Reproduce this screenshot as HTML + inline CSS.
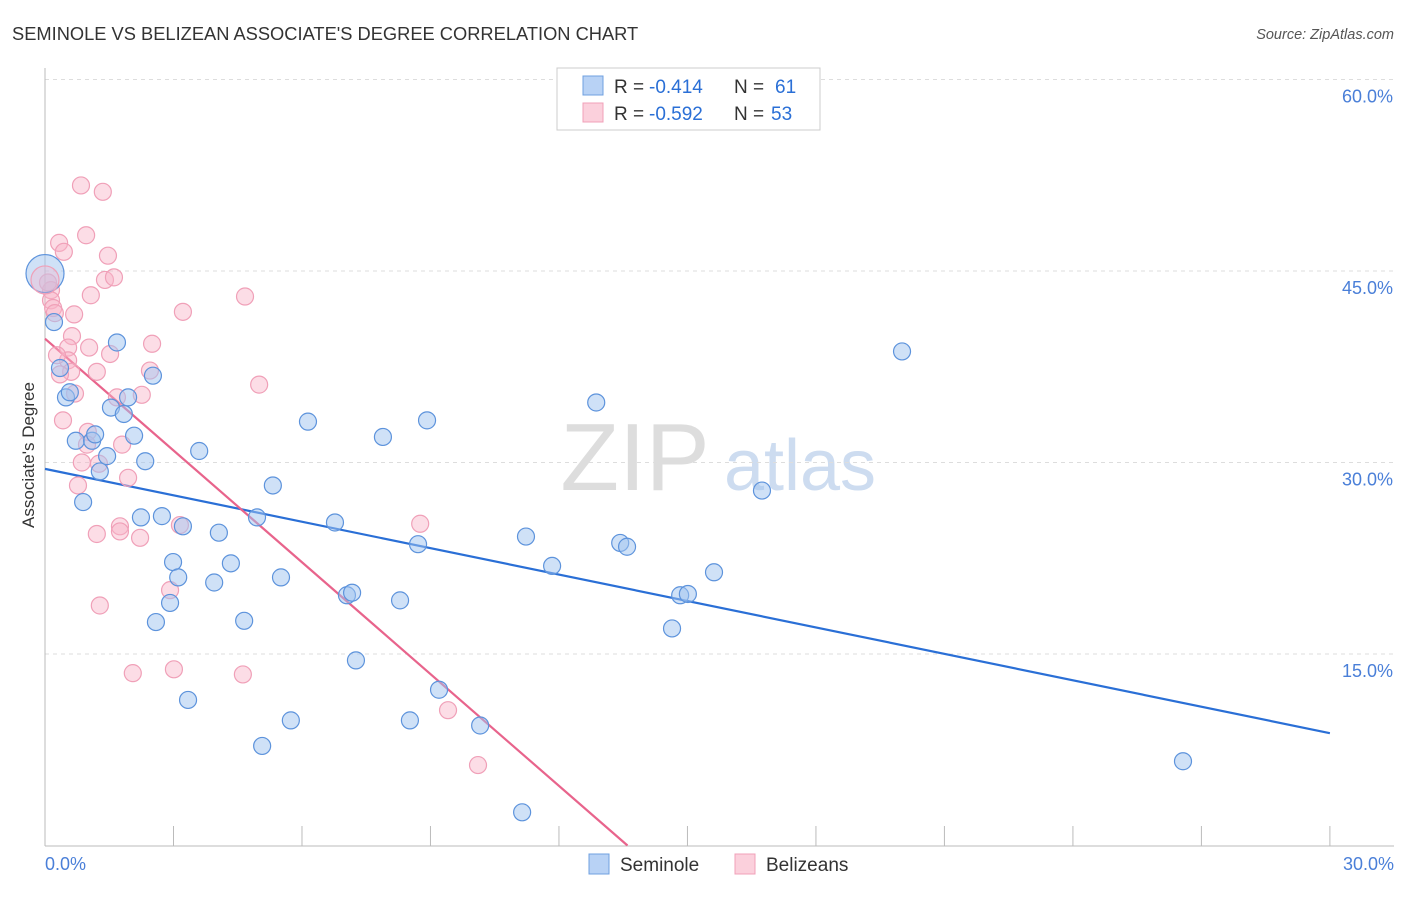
<!DOCTYPE html>
<html><head><meta charset="utf-8"><style>
body{margin:0;background:#fff;font-family:"Liberation Sans",sans-serif;}
svg text{font-family:"Liberation Sans",sans-serif;}
</style></head><body>
<svg id="chart" width="1406" height="892">
<text x="12" y="40" font-size="18.3" fill="#333">SEMINOLE VS BELIZEAN ASSOCIATE'S DEGREE CORRELATION CHART</text>
<text x="1394" y="39" font-size="14.5" fill="#555" text-anchor="end" font-style="italic">Source: ZipAtlas.com</text>
<text x="635" y="490" font-size="96" fill="#ddd" text-anchor="middle" font-family="Liberation Serif">ZIP</text>
<text x="800" y="490" font-size="72" fill="#cddcf0" text-anchor="middle">atlas</text>
<g id="grid"></g><g id="axes"></g><g id="lines"></g><g id="pts"></g>
<text transform="translate(34,455) rotate(-90)" font-size="17" fill="#333" text-anchor="middle">Associate's Degree</text>
<g>
<rect x="557" y="68" width="263" height="62" fill="#fff" stroke="#ccc"/>
<rect x="583" y="76" width="20" height="19" fill="#b8d2f5" stroke="#6fa0e0"/>
<text x="614" y="93" font-size="19" fill="#333">R =</text>
<text x="649" y="93" font-size="19" fill="#2a6fd6">-0.414</text>
<text x="734" y="93" font-size="19" fill="#333">N =</text>
<text x="775" y="93" font-size="19" fill="#2a6fd6">61</text>
<rect x="583" y="103" width="20" height="19" fill="#fbd0dc" stroke="#f0a0b8"/>
<text x="614" y="120" font-size="19" fill="#333">R =</text>
<text x="649" y="120" font-size="19" fill="#2a6fd6">-0.592</text>
<text x="734" y="120" font-size="19" fill="#333">N =</text>
<text x="771" y="120" font-size="19" fill="#2a6fd6">53</text>
</g>
<g><rect x="589" y="854" width="20" height="20" fill="#b8d2f5" stroke="#6fa0e0"/><text x="620" y="871" font-size="19" fill="#333">Seminole</text></g>
<g><rect x="735" y="854" width="20" height="20" fill="#fbd0dc" stroke="#f0a0b8"/><text x="766" y="871" font-size="19" fill="#333">Belizeans</text></g>
</svg>
<script>
const blueX=[0.21,0.35,0.49,0.58,0.72,0.89,1.10,1.17,1.28,1.45,1.54,1.68,1.84,1.94,2.08,2.24,2.34,2.52,2.59,2.73,2.92,2.99,3.11,3.22,3.34,3.60,3.95,4.06,4.34,4.65,4.95,5.07,5.32,5.51,5.74,6.14,6.77,7.05,7.17,7.26,7.89,8.29,8.52,8.71,8.92,9.20,10.16,11.14,11.23,11.84,12.87,13.43,13.59,14.64,14.83,15.01,15.62,16.74,20.01,26.57,0];
const blueY=[41.0,37.4,35.1,35.5,31.7,26.9,31.7,32.2,29.3,30.5,34.3,39.4,33.8,35.1,32.1,25.7,30.1,36.8,17.5,25.8,19.0,22.2,21.0,25.0,11.4,30.9,20.6,24.5,22.1,17.6,25.7,7.8,28.2,21.0,9.8,33.2,25.3,19.6,19.8,14.5,32.0,19.2,9.8,23.6,33.3,12.2,9.4,2.6,24.2,21.9,34.7,23.7,23.4,17.0,19.6,19.7,21.4,27.8,38.7,6.6,44.8];
const pinkX=[0.84,1.35,0.33,0.44,0.96,1.47,1.40,1.61,1.07,0.14,0.14,0.19,0.23,0.68,0.63,1.03,0.54,0.54,0.28,0.61,0.35,1.21,0.70,0.42,0.77,1.00,0.98,0.86,1.21,1.26,1.52,1.68,1.80,1.94,1.75,1.75,2.22,2.26,2.45,2.50,2.92,3.01,3.15,3.22,4.67,5.00,2.05,4.62,1.28,8.76,9.41,10.11,0.07];
const pinkY=[51.7,51.2,47.2,46.5,47.8,46.2,44.3,44.5,43.1,43.5,42.7,42.1,41.7,41.6,39.9,39.0,39.0,38.0,38.4,37.1,36.9,37.1,35.4,33.3,28.2,32.4,31.4,30.0,24.4,29.9,38.5,35.1,31.4,28.8,25.0,24.6,24.1,35.3,37.2,39.3,20.0,13.8,25.1,41.8,43.0,36.1,13.5,13.4,18.8,25.2,10.6,6.3,44.1];
const blueLine=[29.5,8.8];
const pinkLine=[39.7,0,13.6];
const yTicks=[15,30,45,60];
const yTickLabels=["15.0%","30.0%","45.0%","60.0%"];
const xTicks=[0,3,6,9,12,15,18,21,24,27,30];
const xLabels=["0.0%","30.0%"];
const NS="http://www.w3.org/2000/svg";
const sx=v=>45+v*42.83, sy=v=>845.5-v*12.767;
function mk(p,t,a){const e=document.createElementNS(NS,t);for(const k in a)e.setAttribute(k,a[k]);p.appendChild(e);return e;}
const grid=document.getElementById('grid'),axes=document.getElementById('axes'),lines=document.getElementById('lines'),pts=document.getElementById('pts');
yTicks.forEach((t,i)=>{
 const l=mk(grid,'line',{x1:45,x2:1394,y1:sy(t),y2:sy(t),stroke:'#ddd','stroke-dasharray':'4,4'});
 
 
 const tx=mk(axes,'text',{x:1393,y:sy(t)+23,'font-size':18,fill:'#4a7fd8','text-anchor':'end'});
 tx.textContent=yTickLabels[i];
 
 
});
const ax=mk(axes,'line',{x1:45,x2:45,y1:68,y2:846,stroke:'#bbb'});


const bx=mk(axes,'line',{x1:45,x2:1394,y1:846,y2:846,stroke:'#bbb'});


xTicks.forEach(t=>{
 const l=mk(axes,'line',{x1:sx(t),x2:sx(t),y1:826,y2:846,stroke:'#bbb'});
 
 
});
const xl0=mk(axes,'text',{x:45,y:870,'font-size':18,fill:'#4a7fd8'});xl0.textContent=xLabels[0];


const xl1=mk(axes,'text',{x:1394,y:870,'font-size':18,fill:'#4a7fd8','text-anchor':'end'});xl1.textContent=xLabels[1];


function dot(x,y,r,fill,stroke,name){const c=mk(pts,'circle',{cx:sx(x),cy:sy(y),r:r,fill:fill,stroke:stroke,'stroke-width':1.2});
 
 }
pinkX.forEach((x,i)=>dot(x,pinkY[i],8.5,'rgba(248,180,200,0.45)','#f0a0b8','belizean-point'));
blueX.forEach((x,i)=>dot(x,blueY[i],i==blueX.length-1?19:8.5,'rgba(160,196,240,0.5)','#5d93dc','seminole-point'));
dot(0,44.3,14,'rgba(248,180,200,0.35)','#f0a0b8','belizean-point');
const bl=mk(lines,'line',{x1:sx(0),y1:sy(blueLine[0]),x2:sx(30),y2:sy(blueLine[1]),stroke:'#2a6fd6','stroke-width':2.2});


const pl=mk(lines,'line',{x1:sx(0),y1:sy(pinkLine[0]),x2:sx(pinkLine[2]),y2:sy(pinkLine[1]),stroke:'#e8648c','stroke-width':2.2});


</script>
</body></html>
